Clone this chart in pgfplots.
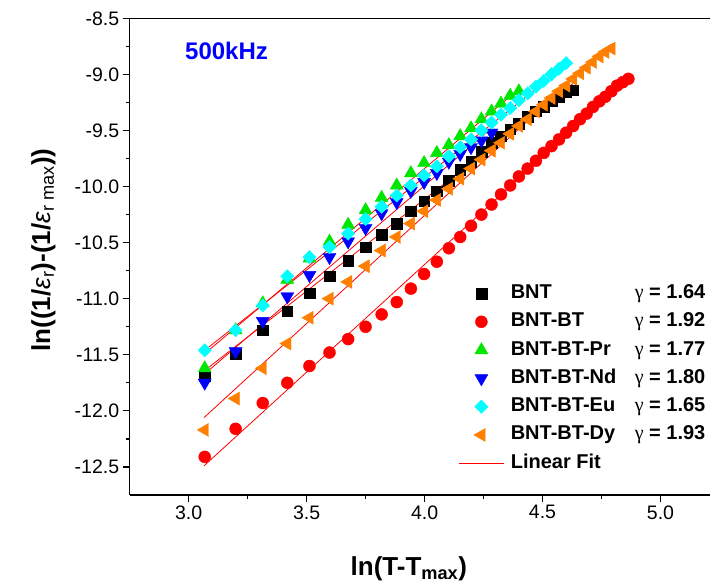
\documentclass[border=0pt]{standalone}
\usepackage{fontspec}
\setmainfont{Liberation Sans}
\newfontfamily\serifg{Liberation Serif}
\usepackage{pgfplots}
\pgfplotsset{compat=1.18}
\usepackage{pgfplotstable}

\definecolor{cgreen}{RGB}{0,230,0}
\definecolor{corange}{RGB}{255,128,0}
\definecolor{ccyan}{RGB}{0,255,255}
\definecolor{cblue}{RGB}{0,0,255}
\definecolor{cred}{RGB}{255,0,0}
\newcommand{\gam}{{\mdseries\serifg γ}}

\pgfplotstableread{
x y
3.068 -11.69
3.199 -11.49
3.314 -11.28
3.418 -11.11
3.512 -10.95
3.597 -10.80
3.676 -10.66
3.750 -10.54
3.818 -10.43
3.882 -10.33
3.942 -10.22
3.998 -10.13
4.052 -10.04
4.103 -9.95
4.151 -9.85
4.197 -9.78
4.241 -9.69
4.284 -9.61
4.324 -9.55
4.363 -9.49
4.400 -9.44
4.437 -9.38
4.472 -9.33
4.505 -9.29
4.538 -9.24
4.570 -9.20
4.600 -9.16
4.630 -9.14
}\bnt

\pgfplotstableread{
x y
3.068 -12.41
3.199 -12.16
3.314 -11.93
3.418 -11.75
3.512 -11.60
3.597 -11.48
3.676 -11.36
3.750 -11.25
3.818 -11.14
3.882 -11.03
3.942 -10.91
3.998 -10.78
4.052 -10.67
4.103 -10.55
4.151 -10.45
4.197 -10.35
4.241 -10.25
4.284 -10.16
4.324 -10.07
4.363 -9.99
4.400 -9.91
4.437 -9.84
4.472 -9.77
4.505 -9.70
4.538 -9.64
4.570 -9.58
4.600 -9.52
4.630 -9.46
4.659 -9.40
4.687 -9.35
4.714 -9.29
4.741 -9.24
4.766 -9.20
4.792 -9.15
4.816 -9.10
4.840 -9.07
4.864 -9.04
}\bntbt

\pgfplotstableread{
x y
3.068 -11.62
3.199 -11.28
3.314 -11.04
3.418 -10.83
3.512 -10.64
3.597 -10.49
3.676 -10.34
3.750 -10.21
3.818 -10.10
3.882 -9.99
3.942 -9.88
3.998 -9.79
4.052 -9.70
4.103 -9.63
4.151 -9.55
4.197 -9.48
4.241 -9.40
4.284 -9.33
4.324 -9.26
4.363 -9.19
4.400 -9.15
}\pr

\pgfplotstableread{
x y
3.068 -11.75
3.199 -11.47
3.314 -11.20
3.418 -10.98
3.512 -10.79
3.597 -10.63
3.676 -10.49
3.750 -10.37
3.818 -10.24
3.882 -10.14
3.942 -10.04
3.998 -9.96
4.052 -9.88
4.103 -9.78
4.151 -9.71
4.197 -9.65
4.241 -9.59
4.284 -9.52
}\nd

\pgfplotstableread{
x y
3.068 -11.46
3.199 -11.28
3.314 -11.06
3.418 -10.80
3.512 -10.63
3.597 -10.54
3.676 -10.42
3.750 -10.29
3.818 -10.18
3.882 -10.08
3.942 -9.99
3.998 -9.90
4.052 -9.82
4.103 -9.73
4.151 -9.65
4.197 -9.58
4.241 -9.50
4.284 -9.43
4.324 -9.36
4.363 -9.30
4.400 -9.23
4.437 -9.17
4.472 -9.11
4.505 -9.06
4.538 -9.00
4.570 -8.95
4.600 -8.90
}\eu

\pgfplotstableread{
x y
3.068 -12.17
3.199 -11.89
3.314 -11.62
3.418 -11.40
3.512 -11.17
3.597 -11.00
3.676 -10.85
3.750 -10.71
3.818 -10.57
3.882 -10.45
3.942 -10.33
3.998 -10.22
4.052 -10.12
4.103 -10.02
4.151 -9.93
4.197 -9.84
4.241 -9.76
4.284 -9.68
4.324 -9.61
4.363 -9.53
4.400 -9.46
4.437 -9.40
4.472 -9.33
4.505 -9.27
4.538 -9.21
4.570 -9.15
4.600 -9.10
4.630 -9.04
4.659 -8.99
4.687 -8.94
4.714 -8.89
4.741 -8.84
4.766 -8.80
4.792 -8.77
}\dy

\begin{document}
\begin{tikzpicture}
\begin{axis}[
  name=ax, at={(0,0)}, anchor=south west,
  scale only axis, width=580.3pt, height=476.7pt,
  xmin=2.75, xmax=5.21, ymin=-12.75, ymax=-8.5,
  axis x line*=bottom, axis y line*=left,
  axis line style={line width=1.2pt,-},
  tick align=outside, major tick length=7pt, minor tick length=4pt,
  every tick/.append style={line width=1.2pt, black},
  xtick={3,3.5,4,4.5,5},
  ytick={-12.5,-12,-11.5,-11,-10.5,-10,-9.5,-9,-8.5},
  minor x tick num=1, minor y tick num=1,
  /pgf/number format/assume math mode=true,
  xticklabel style={/pgf/number format/.cd, fixed, fixed zerofill, precision=1},
  yticklabel style={/pgf/number format/.cd, fixed, fixed zerofill, precision=1},
  ticklabel style={font=\fontsize{19.5}{22}\selectfont},
  xlabel={\textbf{ln(T-T\textsubscript{max})}},
  xlabel style={at={(axis description cs:0.481,0)}, anchor=base, yshift=-81pt, font=\fontsize{26}{30}\selectfont},
  ylabel={\textbf{ln((1/}\textit{ε}\textsubscript{r}\textbf{)-(1/}\textit{ε}\textsubscript{r max}\textbf{))}},
  ylabel style={at={(axis description cs:-0.1373,0.514)}, anchor=base, font=\fontsize{26}{30}\selectfont},
  legend image code/.code={\draw[mark repeat=2,mark phase=2,#1] plot coordinates {(0pt,0pt) (22.5pt,0pt) (45pt,0pt)};},
  legend cell align=left,
  legend style={at={(axis description cs:0.5666,0.4416)}, anchor=north west, draw=none, fill=none,
    inner sep=0pt, outer sep=0pt, row sep=10.3pt, column sep=6.5pt,
    font=\bfseries\fontsize{20}{24}\selectfont,
    nodes={inner sep=0pt, text height=14pt, text depth=4pt}},
]
\addplot[only marks, mark=square*, mark size=5.3pt, black] table {\bnt};
\addlegendentry{\makebox[124pt][l]{BNT}\gam{} = 1.64}
\addplot[only marks, mark=*, mark size=6pt, cred, mark options={draw=cred, fill=cred}] table {\bntbt};
\addlegendentry{\makebox[124pt][l]{BNT-BT}\gam{} = 1.92}
\addplot[only marks, mark=triangle*, mark size=7.5pt, cgreen, mark options={draw=cgreen, fill=cgreen}] table {\pr};
\addlegendentry{\makebox[124pt][l]{BNT-BT-Pr}\gam{} = 1.77}
\addplot[only marks, mark=triangle*, mark size=7.5pt, cblue, mark options={rotate=180, draw=cblue, fill=cblue}] table {\nd};
\addlegendentry{\makebox[124pt][l]{BNT-BT-Nd}\gam{} = 1.80}
\addplot[only marks, mark=square*, mark size=4.7pt, ccyan, mark options={rotate=45, draw=ccyan, fill=ccyan}] table {\eu};
\addlegendentry{\makebox[124pt][l]{BNT-BT-Eu}\gam{} = 1.65}
\addplot[only marks, mark=triangle*, mark size=7.5pt, corange, mark options={rotate=90, draw=corange, fill=corange}] table {\dy};
\addlegendentry{\makebox[124pt][l]{BNT-BT-Dy}\gam{} = 1.93}
% linear fits
\addplot[cred, line width=0.8pt, no marks] coordinates {(3.068,-11.64) (4.630,-9.08)};
\addlegendentry{Linear Fit}
\addplot[cred, line width=0.8pt, no marks, forget plot] coordinates {(3.065,-12.49) (4.864,-9.036)};
\addplot[cred, line width=0.8pt, no marks, forget plot] coordinates {(3.068,-11.49) (4.400,-9.13)};
\addplot[cred, line width=0.8pt, no marks, forget plot] coordinates {(3.068,-11.67) (4.284,-9.48)};
\addplot[cred, line width=0.8pt, no marks, forget plot] coordinates {(3.068,-11.46) (4.600,-8.92)};
\addplot[cred, line width=0.8pt, no marks, forget plot] coordinates {(3.065,-12.06) (4.792,-8.73)};
\node[anchor=west, inner sep=0pt, text=cblue, font=\bfseries\fontsize{24}{28}\selectfont] at (axis description cs:0.0953,0.931) {500kHz};
\end{axis}
\draw[line width=1.2pt] (ax.north west) -- (ax.north east);
\pgfresetboundingbox
\path (-129.7pt,-88pt) rectangle (580.3pt,495pt);
\end{tikzpicture}
\end{document}
